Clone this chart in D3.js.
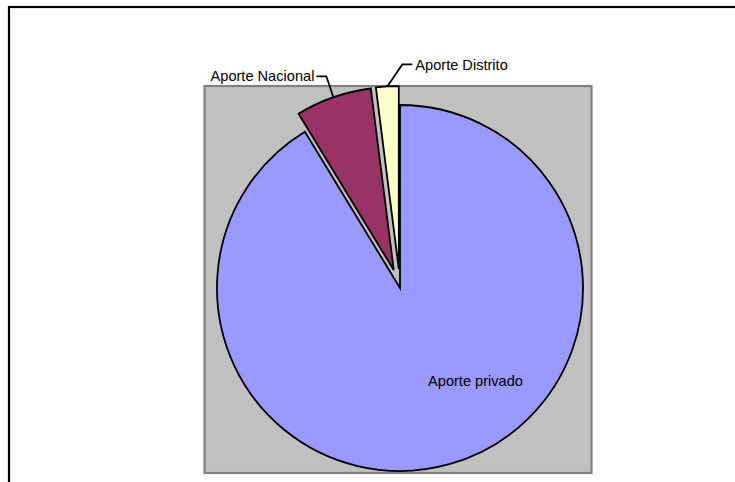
<!DOCTYPE html>
<html>
<head>
<meta charset="utf-8">
<script src="https://cdn.jsdelivr.net/npm/d3@7"></script>
<style>
  html, body { margin: 0; padding: 0; background: #fff; }
  svg { display: block; }
  text { font-family: "Liberation Sans", Arial, sans-serif; font-size: 14.6px; fill: #000; }
</style>
</head>
<body>
<svg id="chart" width="735" height="482"></svg>
<script>
const categories = ["Aporte privado", "Aporte Nacional", "Aporte Distrito"];
const values = [91.3, 6.7, 2.0];
const colors = ["#9999FF", "#993366", "#FFFFCC"];

const W = 735, H = 482;
const svg = d3.select("#chart");

// outer frame (cropped on the right and bottom)
svg.append("rect").attr("x", 9).attr("y", 7).attr("width", 900).attr("height", 700)
  .attr("fill", "#fff").attr("stroke", "#000").attr("stroke-width", 2.2);

// plot area
svg.append("rect").attr("x", 204.5).attr("y", 86).attr("width", 387).attr("height", 387)
  .attr("fill", "#C0C0C0").attr("stroke", "#808080").attr("stroke-width", 2.2);

const cx = 400, cy = 288, R = 183;
const explode = [0, 19, 19];

const pie = d3.pie().sort(null).value(d => d)(values);
const arc = d3.arc().innerRadius(0).outerRadius(R);

const g = svg.append("g").attr("transform", `translate(${cx},${cy})`);

function offsetOf(d, i) {
  const a = (d.startAngle + d.endAngle) / 2;
  return [Math.sin(a) * explode[i], -Math.cos(a) * explode[i]];
}

g.selectAll("path.slice").data(pie).join("path")
  .attr("class", "slice")
  .attr("d", arc)
  .attr("transform", (d, i) => { const o = offsetOf(d, i); return `translate(${o[0]},${o[1]})`; })
  .attr("fill", (d, i) => colors[i])
  .attr("stroke", "#000")
  .attr("stroke-width", 1.8)
  .attr("stroke-linejoin", "miter");

// leader lines + labels for exploded slices
const leaders = [
  null,
  { elbow: [-7, -21], run: -10, anchor: "end" },
  { elbow: [15, -22], run: 10, anchor: "start" }
];

pie.forEach((d, i) => {
  const o = offsetOf(d, i);
  const a = (d.startAngle + d.endAngle) / 2;
  if (leaders[i]) {
    const L = leaders[i];
    const p0 = [o[0] + Math.sin(a) * R, o[1] - Math.cos(a) * R];
    const p1 = [p0[0] + L.elbow[0], p0[1] + L.elbow[1]];
    const p2 = [p1[0] + L.run, p1[1]];
    g.append("polyline")
      .attr("points", [p0, p1, p2].map(p => p.join(",")).join(" "))
      .attr("fill", "none").attr("stroke", "#000").attr("stroke-width", 1.8);
    g.append("text")
      .attr("x", p2[0] + (L.run < 0 ? -2 : 3))
      .attr("y", p2[1])
      .attr("dy", "0.35em")
      .attr("text-anchor", L.anchor)
      .text(categories[i]);
  } else {
    const la = 141 * Math.PI / 180, lr = 120;
    g.append("text")
      .attr("x", Math.sin(la) * lr)
      .attr("y", -Math.cos(la) * lr)
      .attr("dy", "0.35em")
      .attr("text-anchor", "middle")
      .text(categories[i]);
  }
});
</script>
</body>
</html>
